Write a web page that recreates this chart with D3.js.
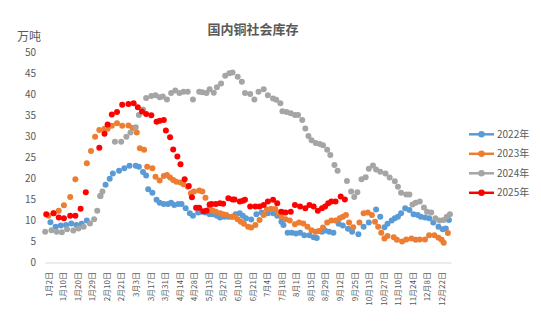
<!DOCTYPE html>
<html><head><meta charset="utf-8">
<script src="https://cdn.jsdelivr.net/npm/d3@7"></script>
<style>
body{margin:0;background:#fff;}
svg{display:block;font-family:"Noto Sans CJK SC","Noto Sans",sans-serif;}
</style>
</head><body>
<svg id="chart" width="541" height="331"></svg>
<script>
// ---------- data ----------
const title = "国内铜社会库存";
const unitLabel = "万吨";
const seriesNames = ["2022年", "2023年", "2024年", "2025年"];
const tickLabels = ["1月2日","1月10日","1月20日","1月29日","2月10日","2月21日","3月3日","3月17日","3月31日","4月14日","4月28日","5月13日","5月27日","6月10日","6月21日","7月4日","7月18日","8月1日","8月15日","8月29日","9月12日","9月25日","10月13日","10月27日","11月10日","11月24日","12月8日","12月22日"];
const yTicks = [0,5,10,15,20,25,30,35,40,45,50];

// x = day offset on the shared date axis (1月2日 = 0, each labelled date 14 days apart)
const day2022 = [2,7,12,17,22,27,32,37,50,55,59,62,68,73,78,84,87,91,94,96,100,104,107,111,115,118,121,125,128,132,136,139,144,147,151,155,158,162,165,169,173,177,180,184,187,190,195,200,205,211,216,220,224,226,230,234,238,242,246,251,255,258,263,266,270,274,279,283,288,292,298,303,308,315,319,323,326,330,333,336,339,343,347,351,355,358,362,366,370,375,379,382,385];
const val2022 = [9.6,8.5,8.8,8.9,9.3,8.9,9.2,10.0,15.8,18.5,19.9,21.2,21.8,22.4,23.0,23.0,22.8,21.5,20.7,17.4,16.6,14.9,14.2,13.9,13.9,14.2,13.7,13.9,13.9,12.9,11.7,11.1,11.9,12.1,11.9,11.5,11.5,11.1,10.7,10.9,10.9,10.9,11.5,11.7,11.1,10.5,10.2,11.5,11.9,11.7,11.7,11.1,9.7,8.9,7.1,7.1,6.9,7.1,6.5,6.5,6.0,5.8,7.3,7.6,7.3,7.1,9.2,8.8,8.0,7.3,6.7,8.5,9.5,12.6,10.9,8.4,9.2,10.0,10.5,10.9,11.7,12.9,12.5,11.5,11.3,10.9,10.7,10.5,9.5,8.5,7.9,8.1,10.1];

const day2023 = [0,5,10,15,21,26,37,41,45,49,54,57,61,66,71,77,81,85,88,92,95,100,103,107,111,114,117,120,123,127,130,134,137,140,145,148,151,155,158,161,165,168,171,176,179,182,185,188,192,195,199,203,207,210,214,218,221,224,228,232,237,241,245,249,253,257,260,264,268,272,276,280,283,286,289,293,299,303,307,311,314,317,320,323,326,332,335,340,344,349,353,357,362,366,371,375,378,380,384];
const val2023 = [11.1,11.7,12.3,13.6,15.6,19.8,23.6,26.5,29.9,31.5,31.8,31.8,32.5,33.1,32.5,32.6,32.0,30.9,27.2,26.8,22.8,22.4,20.4,19.5,20.6,20.8,20.2,19.6,19.2,19.0,18.6,18.0,16.5,16.9,17.1,16.9,15.4,12.9,12.3,12.1,11.7,11.5,11.3,10.9,10.9,10.3,9.7,9.2,8.5,8.3,8.9,10.1,11.3,12.6,12.8,12.7,11.9,10.9,10.3,10.0,9.1,9.5,9.3,8.5,7.7,7.3,7.5,8.3,9.5,10.0,10.0,10.5,10.9,11.3,9.5,8.4,9.5,11.7,11.9,11.3,9.7,8.5,7.1,5.7,6.3,6.0,5.4,5.0,5.5,5.7,5.4,5.5,5.5,6.5,6.5,5.9,5.4,4.7,7.0];

const day2024 = [-3,3,8,13,18,24,29,34,40,44,47,50,52,64,70,75,79,84,87,91,94,99,103,107,110,114,118,122,126,130,134,139,145,148,152,155,159,162,166,170,174,177,182,186,189,194,198,202,207,211,216,219,223,225,229,233,237,240,244,247,250,253,257,261,264,268,271,275,278,287,291,294,297,301,305,308,312,315,319,324,328,333,336,339,344,347,350,353,357,361,364,368,372,376,380,383,386];
const val2024 = [7.3,7.7,7.3,7.2,7.9,7.6,8.1,8.5,9.3,10.3,12.3,15.8,16.9,28.7,28.7,29.9,30.9,32.2,35.1,36.4,39.1,39.6,39.8,39.3,39.5,38.8,40.3,40.9,40.3,40.6,40.6,38.8,40.6,40.5,40.3,41.2,40.4,41.7,42.6,44.4,45.0,45.2,44.2,43.0,40.3,40.1,38.8,40.6,41.2,39.8,39.0,38.7,37.9,36.0,35.8,35.5,35.1,35.1,33.9,31.9,30.1,29.1,28.4,28.2,27.9,26.8,25.6,23.2,21.8,19.4,16.9,15.6,16.7,19.8,20.3,22.3,23.1,22.1,21.6,21.2,20.2,19.3,18.0,16.6,16.2,16.2,13.8,14.2,14.5,13.1,12.1,11.9,10.5,10.0,10.1,10.9,11.5];

const day2025 = [-2,5,10,15,21,26,31,36,49,54,57,61,66,71,77,82,86,90,94,99,104,107,111,113,117,120,124,127,131,135,138,142,145,149,152,155,157,161,165,168,173,177,179,184,187,189,194,199,203,207,211,216,220,224,228,233,237,242,247,251,255,259,263,266,269,272,276,281,285];
const val2025 = [11.5,11.7,10.7,10.5,11.1,11.1,12.8,16.7,27.3,30.6,32.8,35.2,35.8,37.5,37.7,37.9,36.9,35.9,35.3,35.0,33.5,33.7,33.9,31.4,29.8,26.9,25.2,23.4,19.8,18.2,15.5,13.0,13.0,12.2,12.3,13.8,13.9,13.9,14.1,14.0,15.3,15.0,15.0,14.5,14.7,14.9,13.3,13.3,13.3,13.7,14.5,14.9,14.1,12.1,11.9,12.1,13.7,13.3,12.9,13.7,13.3,12.3,12.9,13.3,14.1,14.5,14.5,15.7,15.0];

// ---------- styles ----------
const colors = ["#5B9BD5", "#ED7D31", "#A5A5A5", "#FF0000"];
const textColor = "#595959";

// ---------- build ----------
const seriesDays = [day2022, day2023, day2024, day2025];
const seriesVals = [val2022, val2023, val2024, val2025];
const series = seriesNames.map((name, i) => ({
  name, color: colors[i],
  points: seriesDays[i].map((d, j) => ({ d, v: seriesVals[i][j] }))
}));
const tickDays = tickLabels.map((_, i) => i * 14);

const svg = d3.select("#chart");
const x = d3.scaleLinear().domain([-3.2, 387]).range([45, 451]);
const y = d3.scaleLinear().domain([0, 50]).range([262.5, 52.3]);

// title
svg.append("text").attr("x", 253).attr("y", 29).attr("dy", "0.35em")
  .attr("text-anchor", "middle").attr("font-size", 13).attr("font-weight", "bold")
  .attr("fill", textColor).text(title);

// unit label
svg.append("text").attr("x", 29).attr("y", 37).attr("dy", "0.35em")
  .attr("text-anchor", "middle").attr("font-size", 12)
  .attr("fill", textColor).text(unitLabel);

// y axis
const yAxis = svg.append("g").attr("transform", "translate(45,0)")
  .call(d3.axisLeft(y).tickValues(yTicks).tickSize(0).tickPadding(9));
yAxis.select(".domain").remove();
yAxis.selectAll("text").attr("font-size", 10).attr("fill", textColor)
  .attr("font-family", "'Noto Sans CJK SC','Noto Sans',sans-serif");

// x axis
const xAxis = svg.append("g").attr("transform", `translate(0,${y(0)})`)
  .call(d3.axisBottom(x).tickValues(tickDays).tickFormat((d, i) => tickLabels[i]).tickSize(0).tickSizeOuter(0));
xAxis.select(".domain").attr("stroke", "#D9D9D9").attr("stroke-width", 1.2);
xAxis.selectAll("text")
  .attr("transform", "rotate(-90)")
  .attr("text-anchor", "end")
  .attr("x", -9.5).attr("y", 0).attr("dy", "0.35em")
  .attr("font-size", 8).attr("fill", textColor)
  .attr("font-family", "'Noto Sans CJK SC','Noto Sans',sans-serif");

// markers
const plot = svg.append("g");
series.forEach(s => {
  plot.append("g").selectAll("circle").data(s.points).join("circle")
    .attr("cx", p => x(p.d)).attr("cy", p => y(p.v)).attr("r", 3)
    .attr("fill", s.color);
});

// legend
const legend = svg.append("g");
series.forEach((s, i) => {
  const g = legend.append("g").attr("transform", `translate(469,${134.3 + i * 19.5})`);
  g.append("line").attr("x1", 0).attr("x2", 25).attr("y1", 0).attr("y2", 0)
    .attr("stroke", s.color).attr("stroke-width", 2.5);
  g.append("circle").attr("cx", 12.5).attr("cy", 0).attr("r", 3.2).attr("fill", s.color);
  g.append("text").attr("x", 28).attr("y", 0).attr("dy", "0.35em")
    .attr("font-size", 10).attr("fill", textColor).text(s.name);
});
</script>
</body></html>
